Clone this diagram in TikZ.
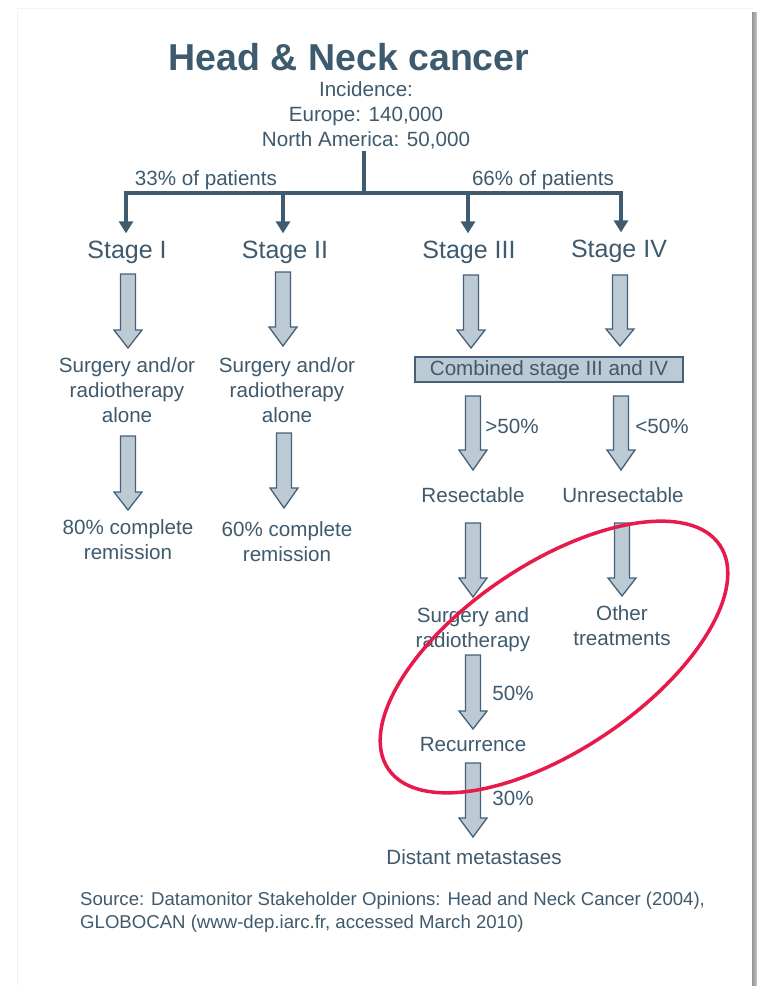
\documentclass[tikz,border=0pt]{standalone}
\usepackage{fontspec}
\setmainfont{Liberation Sans}
\usetikzlibrary{arrows.meta}
\definecolor{txt}{HTML}{3E5A6E}
\definecolor{afill}{HTML}{BCCAD4}
\definecolor{aline}{HTML}{45617A}
\definecolor{treec}{HTML}{3F5B6F}
\definecolor{redc}{HTML}{E8194B}
\newcommand\bkarrow[4]{%
  \filldraw[blockar] (#1-7.5,#2) -- (#1+7.5,#2) -- (#1+7.5,#3) -- (#1+14,#3)
    -- (#1,#4) -- (#1-14,#3) -- (#1-7.5,#3) -- cycle;}
\begin{document}
\begin{tikzpicture}[x=1pt,y=-1pt,
  lbl/.style={text=txt, align=center, inner sep=0pt, anchor=base,
    font=\fontsize{20.6}{25}\selectfont},
  titlef/.style={lbl, font=\fontsize{37.5}{40}\selectfont\bfseries},
  stg/.style={lbl, font=\fontsize{25}{30}\selectfont},
  foot/.style={lbl, align=left, anchor=base west, font=\fontsize{18.6}{23}\selectfont},
  boxn/.style={text=txt, draw=aline, fill=afill, line width=1.3pt, inner xsep=0pt,
    inner ysep=3pt, minimum width=268pt, text height=15pt, text depth=4pt,
    font=\fontsize{20.6}{25}\selectfont},
  blockar/.style={fill=afill, draw=aline, line width=1.3pt, line join=miter},
  tree/.style={draw=treec, line width=4pt},
  treear/.style={tree, -{Triangle[width=14pt,length=12pt]}, shorten >=7pt},
  ring/.style={draw=redc, line width=3.5pt}]
\useasboundingbox (0,0) rectangle (757,986);
\fill[white] (0,0) rectangle (757,986);
% page edges
\draw[black!5, line width=1pt] (17,8) -- (752,8);
\draw[black!5, line width=1pt] (17,8) -- (17,986);
\shade[left color=black!42, right color=black!22] (752,12) rectangle (757,986);

% texts (multi-line nodes: base = baseline of last line)
\node[titlef] (title) at (349,70) {Head \& Neck cancer};
\node[lbl] (incid) at (366,146) {Incidence:\\Europe: 140,000\\North America: 50,000};
\node[lbl] (p33) at (206,185) {33\% of patients};
\node[lbl] (p66) at (543,185) {66\% of patients};
\node[stg] (s1) at (127,258) {Stage I};
\node[stg] (s2) at (285,258) {Stage II};
\node[stg] (s3) at (469,258) {Stage III};
\node[stg] (s4) at (619,257) {Stage IV};
\node[lbl] (t1) at (127,422) {Surgery and/or\\radiotherapy\\alone};
\node[lbl] (t2) at (287,422) {Surgery and/or\\radiotherapy\\alone};
\node[lbl] (r1) at (128,559) {80\% complete\\remission};
\node[lbl] (r2) at (287,561) {60\% complete\\remission};
\node[boxn] (comb) at (549,369.5) {Combined stage III and IV};
\node[lbl] (gt) at (512,433) {>50\%};
\node[lbl] (lt) at (662,433) {<50\%};
\node[lbl] (res) at (473,502) {Resectable};
\node[lbl] (unres) at (623,502) {Unresectable};
\node[lbl] (sr) at (473,647) {Surgery and\\radiotherapy};
\node[lbl] (oth) at (622,645) {Other\\treatments};
\node[lbl] (p50) at (513,700) {50\%};
\node[lbl] (rec) at (473,751) {Recurrence};
\node[lbl] (p30) at (513,805) {30\%};
\node[lbl] (dist) at (474,864) {Distant metastases};
\node[foot] (src) at (80,928) {Source: Datamonitor Stakeholder Opinions: Head and Neck Cancer (2004),\\GLOBOCAN (www-dep.iarc.fr, accessed March 2010)};

% tree connectors
\coordinate (j) at (364,193);
\coordinate (b1) at (126,193);
\coordinate (b2) at (283,193);
\coordinate (b3) at (468,193);
\coordinate (b4) at (621,193);
\draw[tree] ([yshift=-2pt]incid.south -| j) -- (j);
\draw[tree] ([xshift=-2pt]b1) -- ([xshift=2pt]b4);
\draw[treear] (b1) -- (s1.north -| b1);
\draw[treear] (b2) -- (s2.north -| b2);
\draw[treear] (b3) -- (s3.north -| b3);
\draw[treear] (b4) -- (s4.north -| b4);

% block arrows
\bkarrow{128}{274}{330}{348}
\bkarrow{283}{272}{327}{346}
\bkarrow{471}{275}{330}{348}
\bkarrow{620}{275}{329}{346}
\bkarrow{128}{436}{492}{510}
\bkarrow{284}{433}{488}{508}
\bkarrow{473}{396}{450}{470}
\bkarrow{621}{396}{450}{470}
\bkarrow{473}{523}{578}{597}
\bkarrow{622}{523}{578}{596}
\bkarrow{473}{655}{711}{729}
\bkarrow{473}{763}{818}{837}

% highlight ring
\draw[ring, rotate around={34:(554,657)}] (554,657) ellipse [x radius=200pt, y radius=93pt];
\end{tikzpicture}
\end{document}
